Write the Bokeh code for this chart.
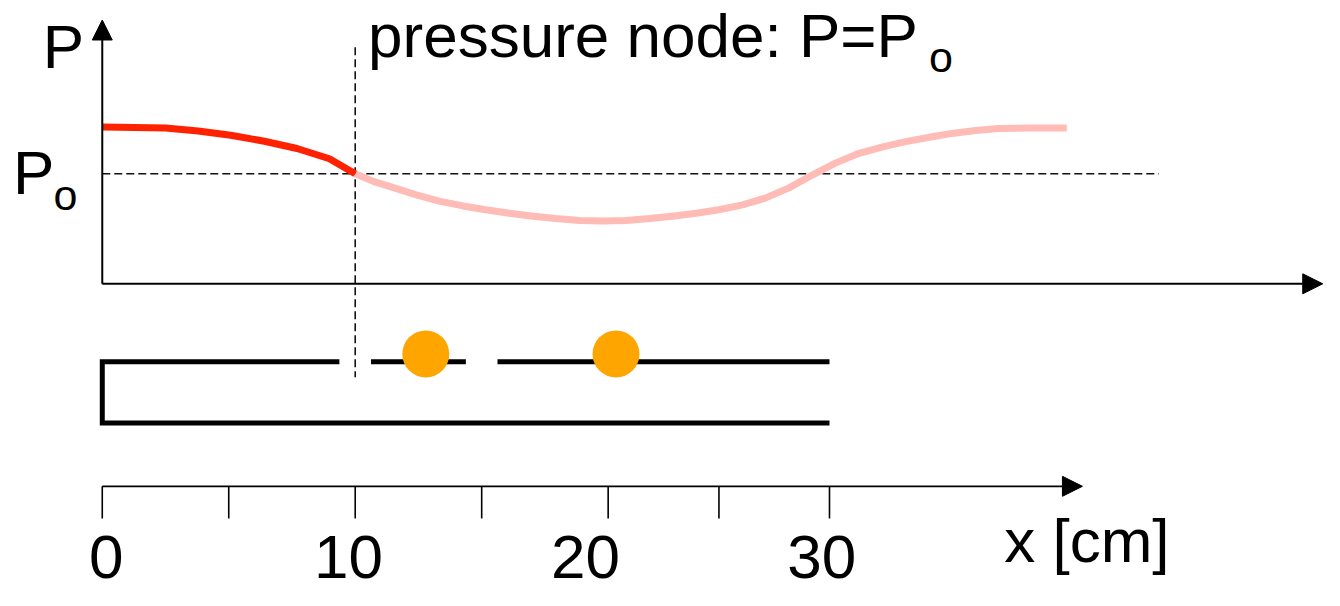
from bokeh.plotting import figure
from bokeh.models import Range1d, Label, Arrow, NormalHead
from bokeh.embed import file_html
from bokeh.resources import INLINE

# ---- data (x in cm, pressure in units of P0) ----
red_x = [0.0, 2.5, 3.79, 5.08, 6.41, 7.70, 8.98, 10.0]
red_p = [1.425, 1.416, 1.389, 1.350, 1.296, 1.230, 1.137, 1.000]

pink_x = [10.0, 10.74, 11.48, 12.38, 13.32, 14.26, 15.16, 16.09, 17.03, 17.93,
          18.87, 19.80, 20.70, 21.64, 22.54, 23.48, 24.38, 25.31, 26.21, 27.15,
          28.09, 28.98, 29.92, 30.82, 31.76, 32.70, 33.59, 34.53, 35.43, 36.60,
          38.13]
pink_p = [1.000, 0.929, 0.876, 0.810, 0.752, 0.708, 0.673, 0.642, 0.615, 0.593,
          0.575, 0.571, 0.575, 0.593, 0.615, 0.642, 0.673, 0.717, 0.779, 0.872,
          0.991, 1.097, 1.186, 1.243, 1.292, 1.332, 1.367, 1.394, 1.412, 1.416,
          1.416]

P0 = 1.0
node_x = 10.0
ball_x = [12.79, 20.31]
tick_x = [0, 5, 10, 15, 20, 24.38, 28.75]
tick_label_x = [0.16, 9.73, 19.1, 28.44]
tick_labels = ["0", "10", "20", "30"]
tube_top_segments = [[0, 9.375], [10.625, 14.375], [15.625, 28.75]]
tube_length = 28.75

FONT = "Liberation Sans"
BIG = 62
SMALL = 43
YPX = 606 / 590          # layout units per screen pixel (vertical)


def base(y, size):
    # label anchor for a desired alphabetic baseline
    return y - 0.385 * size * YPX


p = figure(width=1324, height=590, output_backend="svg", toolbar_location=None,
           x_range=Range1d(-4.0234, 48.32), y_range=Range1d(606, 0),
           min_border=0, outline_line_color=None)
p.extra_y_ranges = {"P": Range1d(start=-2.7876, end=2.5752)}
p.axis.visible = False
p.grid.visible = False
p.background_fill_color = "white"
p.border_fill_color = "white"


def head():
    return NormalHead(size=20, fill_color="black", line_color="black", line_width=1)


# pressure axes
p.add_layout(Arrow(end=head(), x_start=0, y_start=0, x_end=0, y_end=2.398,
                   y_range_name="P", line_width=2, line_color="black"))
p.add_layout(Arrow(end=head(), x_start=0, y_start=0, x_end=48.25, y_end=0,
                   y_range_name="P", line_width=2, line_color="black"))

# P0 dashed line and node dashed line
p.line([0, 41.77], [P0, P0], y_range_name="P", line_color="#111111",
       line_width=1.6, line_dash="8 4")
p.line([node_x, node_x], [48, 387], line_color="#111111", line_width=1.6,
       line_dash="8 4")

# pressure curve
p.line(pink_x, pink_p, y_range_name="P", line_color="#FFBBB5", line_width=7,
       line_join="round")
p.line(red_x, red_p, y_range_name="P", line_color="#FF2200", line_width=7,
       line_join="round")

# tube
p.line([tube_length, 0, 0, tube_top_segments[0][1]], [434, 434, 371, 371],
       line_color="black", line_width=5, line_join="miter")
for seg in tube_top_segments[1:]:
    p.line(seg, [371, 371], line_color="black", line_width=5)

# balls
p.scatter(ball_x, [363] * len(ball_x), size=47, fill_color="#FFA500",
          line_color=None)

# ruler
p.add_layout(Arrow(end=head(), x_start=0, y_start=499, x_end=38.75, y_end=499,
                   line_width=1.6, line_color="black"))
p.segment(tick_x, [499] * len(tick_x), tick_x, [532] * len(tick_x),
          line_color="black", line_width=1.6)
for tx, tl in zip(tick_label_x, tick_labels):
    p.add_layout(Label(x=tx, y=base(596, BIG), text=tl, text_font=FONT,
                       text_font_size=f"{BIG}px", text_color="black",
                       text_align="center", text_baseline="alphabetic"))
p.add_layout(Label(x=35.66, y=base(579, BIG), text="x [cm]", text_font=FONT,
                   text_font_size=f"{BIG}px", text_color="black",
                   text_align="left", text_baseline="alphabetic"))

# axis labels
p.add_layout(Label(x=-1.54, y=base(72, BIG), text="P", text_font=FONT,
                   text_font_size=f"{BIG}px", text_color="black",
                   text_align="center", text_baseline="alphabetic"))
p.add_layout(Label(x=-2.71, y=base(201, BIG), text="P", text_font=FONT,
                   text_font_size=f"{BIG}px", text_color="black",
                   text_align="center", text_baseline="alphabetic"))
p.add_layout(Label(x=-1.46, y=base(217, SMALL), text="o", text_font=FONT,
                   text_font_size=f"{SMALL}px", text_color="black",
                   text_align="center", text_baseline="alphabetic"))

# title annotation
p.add_layout(Label(x=10.51, y=base(60, BIG), text="pressure node: P=P",
                   text_font=FONT, text_font_size=f"{BIG}px", text_color="black",
                   text_align="left", text_baseline="alphabetic"))
p.add_layout(Label(x=33.16, y=base(75, SMALL), text="o", text_font=FONT,
                   text_font_size=f"{SMALL}px", text_color="black",
                   text_align="center", text_baseline="alphabetic"))

open("out.html", "w").write(file_html(p, INLINE))
